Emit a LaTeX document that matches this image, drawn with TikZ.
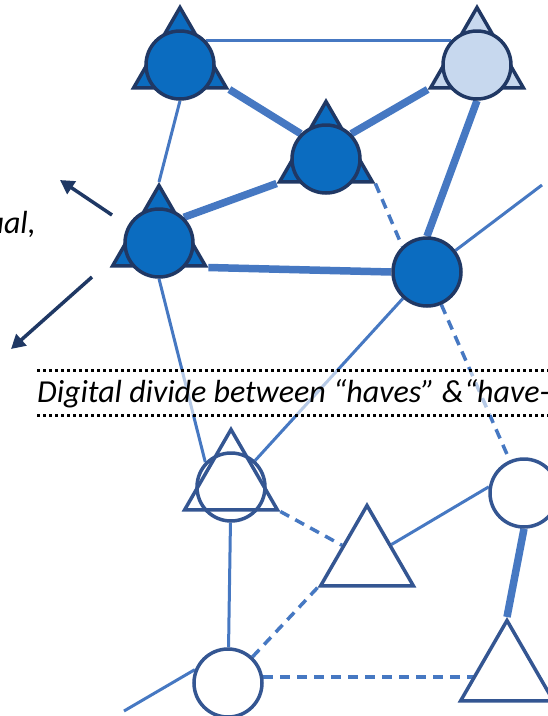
\documentclass[tikz,border=0pt]{standalone}
\usepackage{fontspec}
\setmainfont{Carlito}
\usetikzlibrary{shapes.geometric,arrows.meta,backgrounds}
\definecolor{hubblue}{RGB}{11,108,192}
\definecolor{hubline}{RGB}{32,56,100}
\definecolor{hublight}{RGB}{199,216,238}
\definecolor{edgeblue}{RGB}{70,120,194}
\definecolor{lowline}{RGB}{52,86,146}
\definecolor{arrownavy}{RGB}{31,56,100}

\begin{document}
\begin{tikzpicture}[x=1pt, y=-1pt,
	font=\fontsize{32}{37}\selectfont\itshape,
	hub/.style={circle, draw=hubline, fill=hubblue, line width=3.5pt, minimum size=68pt, inner sep=0pt},
	hubtri/.style={regular polygon, regular polygon sides=3, draw=hubline, fill=hubblue, line width=3.5pt, minimum size=107pt, inner sep=0pt},
	low/.style={circle, draw=lowline, fill=white, line width=3.5pt, minimum size=68pt, inner sep=0pt},
	lowtri/.style={regular polygon, regular polygon sides=3, draw=lowline, fill=white, line width=3.5pt, minimum size=107pt, inner sep=0pt},
	thin/.style={edgeblue, line width=3pt},
	heavy/.style={edgeblue, line width=7.5pt},
	dashedge/.style={edgeblue, line width=3.5pt, dash pattern=on 10pt off 7pt},
	pointer/.style={arrownavy, line width=3.5pt, -{Triangle[length=14pt, width=15pt]}}]
				% Define the frame
				\def\W{548}
				\def\H{716}
				\useasboundingbox (0,0) rectangle (\W,\H);
				\clip (0,0) rectangle (\W,\H);
				
				% Connected hubs (top)
				\node[hubtri] (At) at (180,61) {};
				\node[hub] (A) at (180,65) {};
				\node[hubtri, fill=hublight] (Bt) at (477,61) {};
				\node[hub, fill=hublight] (B) at (477,65) {};
				\node[hubtri] (Ct) at (326,155) {};
				\node[hub] (C) at (326,159) {};
				\node[hubtri] (Dt) at (159,239) {};
				\node[hub] (D) at (159,243) {};
				\node[hub] (E) at (427,272) {};
				
				% Unconnected nodes (bottom)
				\node[lowtri, fill=none] (Gt) at (231,483) {};
				\node[low, fill=none] (G) at (231,487) {};
				\node[lowtri] (H) at (367,559) {};
				\node[low] (F) at (524,493) {};
				\node[low] (I) at (228,683) {};
				\node[lowtri] (J) at (507,674) {};
				
				% Free line ends
				\coordinate (e1) at (542,185);
				\coordinate (i1) at (124,711);
				
				% Draw links behind the nodes
				\begin{scope}[on background layer]
					\draw[thin] (A.43) -- (B.137);
					\draw[heavy] (At.corner 3) -- (C.135);
					\draw[heavy] (C.45) -- (Bt.corner 2);
					\draw[thin] (A.south) -- (Dt.corner 1);
					\draw[heavy] (D.46) -- (Ct.corner 2);
					\draw[heavy] (Dt.corner 3) -- (E.west);
					\draw[heavy] (B.south) -- (E.north);
					\draw[dashedge] (Ct.corner 3) -- (E.134);
					\draw[dashedge] (E) -- (F);
					\draw[thin] (E) -- (e1);
					\draw[thin] (E) -- (G);
					\draw[thin] (D.south) -- (G.136);
					\draw[dashedge] (Gt.corner 3) -- (H);
					\draw[thin] (G) -- (I);
					\draw[dashedge] (I) -- (H.corner 2);
					\draw[dashedge] (I.10) -- (I.10 -| J.west);
					\draw[thin] (I.158) -- (i1);
					\draw[thin] (H) -- (F.170);
					\draw[heavy] (F.south) -- (J.corner 1);
				\end{scope}
				
				% Arrows on the left
				\coordinate (p1) at (112,215);
				\coordinate (q1) at (60,180);
				\coordinate (p2) at (92,277);
				\coordinate (q2) at (11,349);
				\draw[pointer] (p1) -- (q1);
				\draw[pointer] (p2) -- (q2);
				\node[anchor=base east, inner sep=0pt] (lefttext) at (36,233) {ual,};
				
				% Digital divide band
				\fill[white, opacity=0.6] (37,370) rectangle (\W,415);
				\draw[line width=3pt, dash pattern=on 3pt off 3pt] (37,370) -- (\W,370);
				\draw[line width=3pt, dash pattern=on 3pt off 3pt] (37,415) -- (\W,415);
				\node[anchor=base west, inner sep=0pt] (divide) at (37,402) {Digital divide between “haves” \&“have-};
				
			\end{tikzpicture}
\end{document}
